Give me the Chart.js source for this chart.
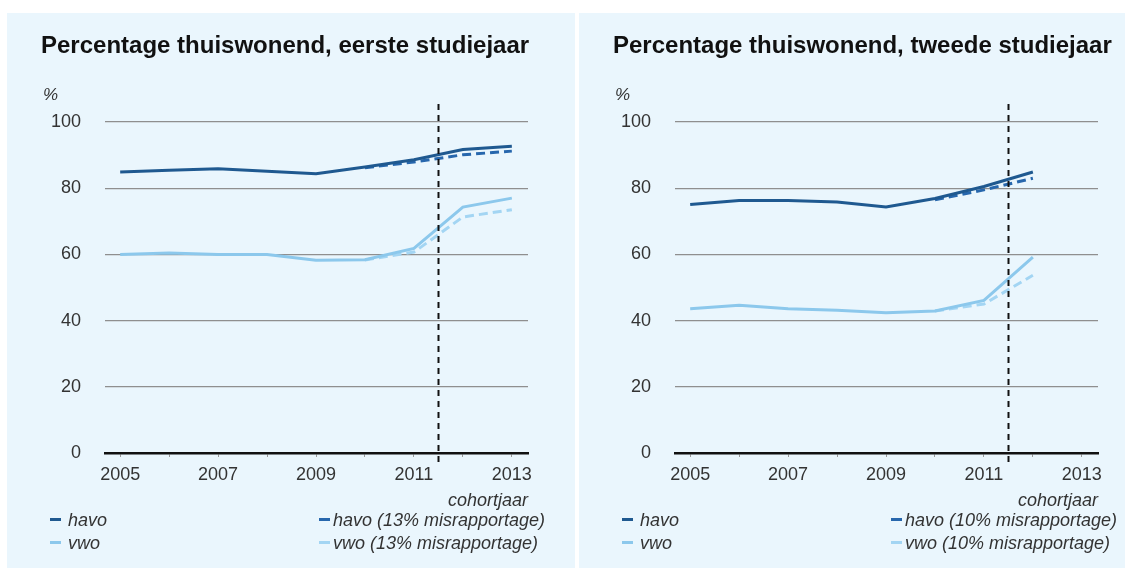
<!DOCTYPE html>
<html>
<head>
<meta charset="utf-8">
<script src="https://cdn.jsdelivr.net/npm/chart.js@4/dist/chart.umd.min.js"></script>
<style>
  html, body { margin: 0; padding: 0; background: #fff; width: 1132px; height: 574px; overflow: hidden; }
  body { position: relative; font-family: 'Liberation Sans', Arial, sans-serif; }
  .panel { position: absolute; top: 13px; height: 555px; background: #eaf6fd; overflow: hidden; }
  .panel canvas { position: absolute; left: 0; top: 0; }
  .title { position: absolute; left: 34px; top: 20px; font-size: 24px; line-height: 24px; font-weight: bold; color: #111; white-space: nowrap; }
  .unit { position: absolute; left: 36px; top: 72px; font-size: 17px; line-height: 20px; font-style: italic; color: #333; }
  .xname { position: absolute; top: 476px; font-size: 18px; line-height: 22px; font-style: italic; color: #333; text-align: right; }
  .leg { position: absolute; font-size: 18px; line-height: 22px; font-style: italic; color: #333; white-space: nowrap; }
  .dash { position: absolute; width: 11px; height: 3px; }
</style>
</head>
<body>
<div class="panel" id="p1" style="left:7px; width:568px;">
  <canvas id="c1" width="568" height="555"></canvas>
  <div class="title">Percentage thuiswonend, eerste studiejaar</div>
  <div class="unit">%</div>
  <div class="xname" style="right:47px;">cohortjaar</div>
  <div id="leg1"></div>
</div>
<div class="panel" id="p2" style="left:579px; width:546px;">
  <canvas id="c2" width="568" height="555"></canvas>
  <div class="title">Percentage thuiswonend, tweede studiejaar</div>
  <div class="unit">%</div>
  <div class="xname" style="right:27px;">cohortjaar</div>
  <div id="leg2"></div>
</div>
<script>
// data
const years = [2005, 2006, 2007, 2008, 2009, 2010, 2011, 2012, 2013];
const eersteHavo    = [84.9, 85.4, 85.9, 85.1, 84.4, 86.4, 88.6, 91.7, 92.7];
const eersteHavoMis = [null, null, null, null, null, 86.2, 87.9, 90.1, 91.2];
const eersteVwo     = [60.0, 60.4, 60.0, 60.0, 58.2, 58.4, 61.8, 74.3, 77.0];
const eersteVwoMis  = [null, null, null, null, null, 58.3, 60.7, 71.3, 73.5];

const tweedeYears   = [2005, 2006, 2007, 2008, 2009, 2010, 2011, 2012];
const tweedeHavo    = [75.1, 76.3, 76.3, 75.8, 74.3, 76.9, 80.5, 84.9];
const tweedeHavoMis = [null, null, null, null, null, 76.5, 79.5, 83.0];
const tweedeVwo     = [43.6, 44.6, 43.6, 43.1, 42.4, 42.9, 46.1, 59.2];
const tweedeVwoMis  = [null, null, null, null, null, 42.9, 45.0, 53.7];

const yTicks = [0, 20, 40, 60, 80, 100];
const cutYear = 2011.5;

const HAVO = '#1f5990', HAVO_MIS = '#2767ad';
const VWO = '#8cc8ec', VWO_MIS = '#a3d5f3';

Chart.defaults.font.family = "'Liberation Sans', Arial, sans-serif";
Chart.defaults.font.size = 18;
Chart.defaults.color = '#333';

const pts = (xs, ys) => xs.map((x, i) => ({ x: x, y: ys[i] }));

const cutLine = {
  id: 'cutLine',
  afterDraw(chart) {
    const { ctx, chartArea, scales } = chart;
    const x = Math.round(scales.x.getPixelForValue(cutYear)) + 0.5;
    ctx.save();
    ctx.strokeStyle = '#111';
    ctx.lineWidth = 2;
    ctx.setLineDash([6, 5]);
    ctx.beginPath();
    ctx.moveTo(x, chartArea.top - 18);
    ctx.lineTo(x, chartArea.bottom + 12);
    ctx.stroke();
    ctx.restore();
  }
};

function makeChart(id, xs, havo, havoMis, vwo, vwoMis, left, right) {
  const top = 109, bottom = 440, W = 568, H = 555;
  new Chart(document.getElementById(id), {
    type: 'line',
    data: {
      datasets: [
        { label: 'havo', data: pts(xs, havo), borderColor: HAVO, order: 1 },
        { label: 'vwo', data: pts(xs, vwo), borderColor: VWO, order: 2 },
        { label: 'havo mis', data: pts(xs, havoMis), borderColor: HAVO_MIS, borderDash: [9, 5], order: 3 },
        { label: 'vwo mis', data: pts(xs, vwoMis), borderColor: VWO_MIS, borderDash: [9, 5], order: 4 }
      ]
    },
    options: {
      responsive: false,
      animation: false,
      elements: { point: { radius: 0 }, line: { borderWidth: 3, tension: 0 } },
      layout: { padding: { left: 0, top: top, right: W - right, bottom: H - bottom - 40 } },
      plugins: { legend: { display: false }, tooltip: { enabled: false } },
      scales: {
        x: {
          type: 'linear', min: 2004.69, max: 2013.33,
          afterFit(s) { s.height = 40; s.paddingLeft = 0; s.paddingRight = 0; },
          border: { display: true, color: '#111', width: 2.5 },
          grid: { drawOnChartArea: false, drawTicks: true, tickLength: 4, color: '#999', lineWidth: 1 },
          ticks: {
            stepSize: 1, includeBounds: false, autoSkip: false, maxRotation: 0, maxTicksLimit: 20,
            padding: 7, color: '#333',
            callback: v => (Math.round(v) % 2 === 1 ? String(Math.round(v)) : '')
          }
        },
        y: {
          min: 0, max: 100,
          afterFit(s) { s.width = left; s.paddingTop = 0; s.paddingBottom = 0; },
          afterBuildTicks(s) { s.ticks = yTicks.map(v => ({ value: v })); },
          border: { display: false },
          grid: { drawTicks: false, color: '#8f8f8f', lineWidth: 1.3 },
          ticks: { padding: 24, color: '#333' }
        }
      }
    },
    plugins: [cutLine]
  });
}

function makeLegend(id, suffix) {
  const items = [
    { t: 'havo', c: HAVO, x: 43, y: 496 },
    { t: 'vwo', c: VWO, x: 43, y: 519 },
    { t: 'havo (' + suffix + ' misrapportage)', c: HAVO_MIS, x: 312, y: 496 },
    { t: 'vwo (' + suffix + ' misrapportage)', c: VWO_MIS, x: 312, y: 519 }
  ];
  const host = document.getElementById(id);
  items.forEach((it, i) => {
    const d = document.createElement('div');
    d.className = 'dash';
    d.style.left = it.x + 'px';
    d.style.top = (it.y + 9) + 'px';
    d.style.background = it.c;
    host.appendChild(d);
    const s = document.createElement('div');
    s.className = 'leg';
    s.style.left = (it.x + (i < 2 ? 18 : 14)) + 'px';
    s.style.top = it.y + 'px';
    s.textContent = it.t;
    host.appendChild(s);
  });
}

makeChart('c1', years, eersteHavo, eersteHavoMis, eersteVwo, eersteVwoMis, 98, 521);
makeChart('c2', tweedeYears, tweedeHavo, tweedeHavoMis, tweedeVwo, tweedeVwoMis, 96, 519);
makeLegend('leg1', '13%');
makeLegend('leg2', '10%');
</script>
</body>
</html>
